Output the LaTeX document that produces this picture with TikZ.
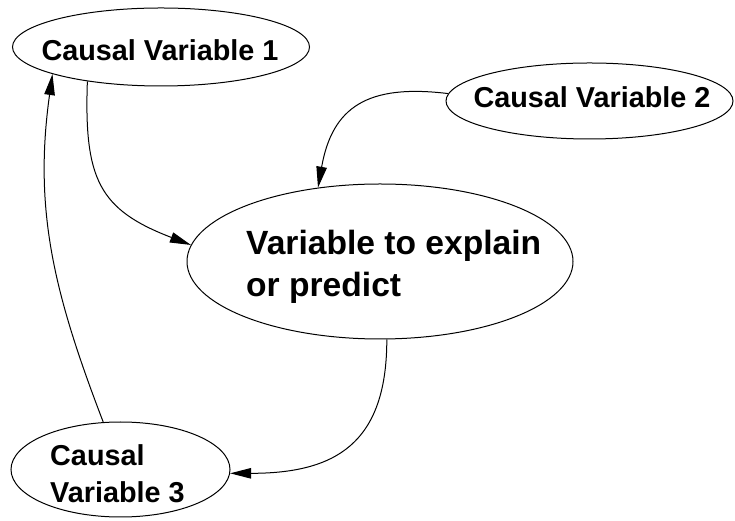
\documentclass[tikz,border=0pt]{standalone}
\usepackage{fontspec}
\setmainfont{Liberation Sans}
\usetikzlibrary{
	arrows.meta,
	shapes.geometric
}
\tikzset{
	causal/.style={draw, ellipse, line width=1pt, inner sep=0pt},
	cvtext/.style={inner sep=0pt, align=left, font=\fontsize{28.8}{37}\selectfont\bfseries},
	maintext/.style={inner sep=0pt, align=left, font=\fontsize{33.6}{42}\selectfont\bfseries},
	link/.style={-{Triangle[length=21pt,width=10.5pt]}, line width=1pt}
}

\begin{document}
\begin{tikzpicture}[x=1pt, y=1pt]
			\useasboundingbox (0,0) rectangle (735,521);
			% ellipses
			\node[causal, minimum width=297pt, minimum height=78pt] (cvone) at (161,474) {};
			\node[causal, minimum width=287pt, minimum height=76pt] (cvtwo) at (589.5,420) {};
			\node[causal, minimum width=386pt, minimum height=155pt] (target) at (380,259.5) {};
			\node[causal, minimum width=219pt, minimum height=95pt] (cvthree) at (120.5,51.5) {};
			% texts
			\node[cvtext] (cvonetext) at (160,471) {Causal Variable 1};
			\node[cvtext] (cvtwotext) at (592,424) {Causal Variable 2};
			\node[cvtext, anchor=west] (cvthreetext) at (50,47.7) {Causal\\Variable 3};
			\node[maintext, anchor=west] (targettext) at (246,253.7) {Variable to explain\\or predict};
			% arrows
			\draw[link] (cvone.205) to[out=268, in=159, looseness=1.3] (target.175);
			\draw[link] (cvtwo.177) to[out=173, in=80, looseness=1.3] (target.130);
			\draw[link] (target.275) to[out=270, in=0, looseness=1.3] (cvthree.358);
			\draw[link] (cvthree.110) to[out=111, in=262] (cvone.194);
		\end{tikzpicture}
\end{document}
